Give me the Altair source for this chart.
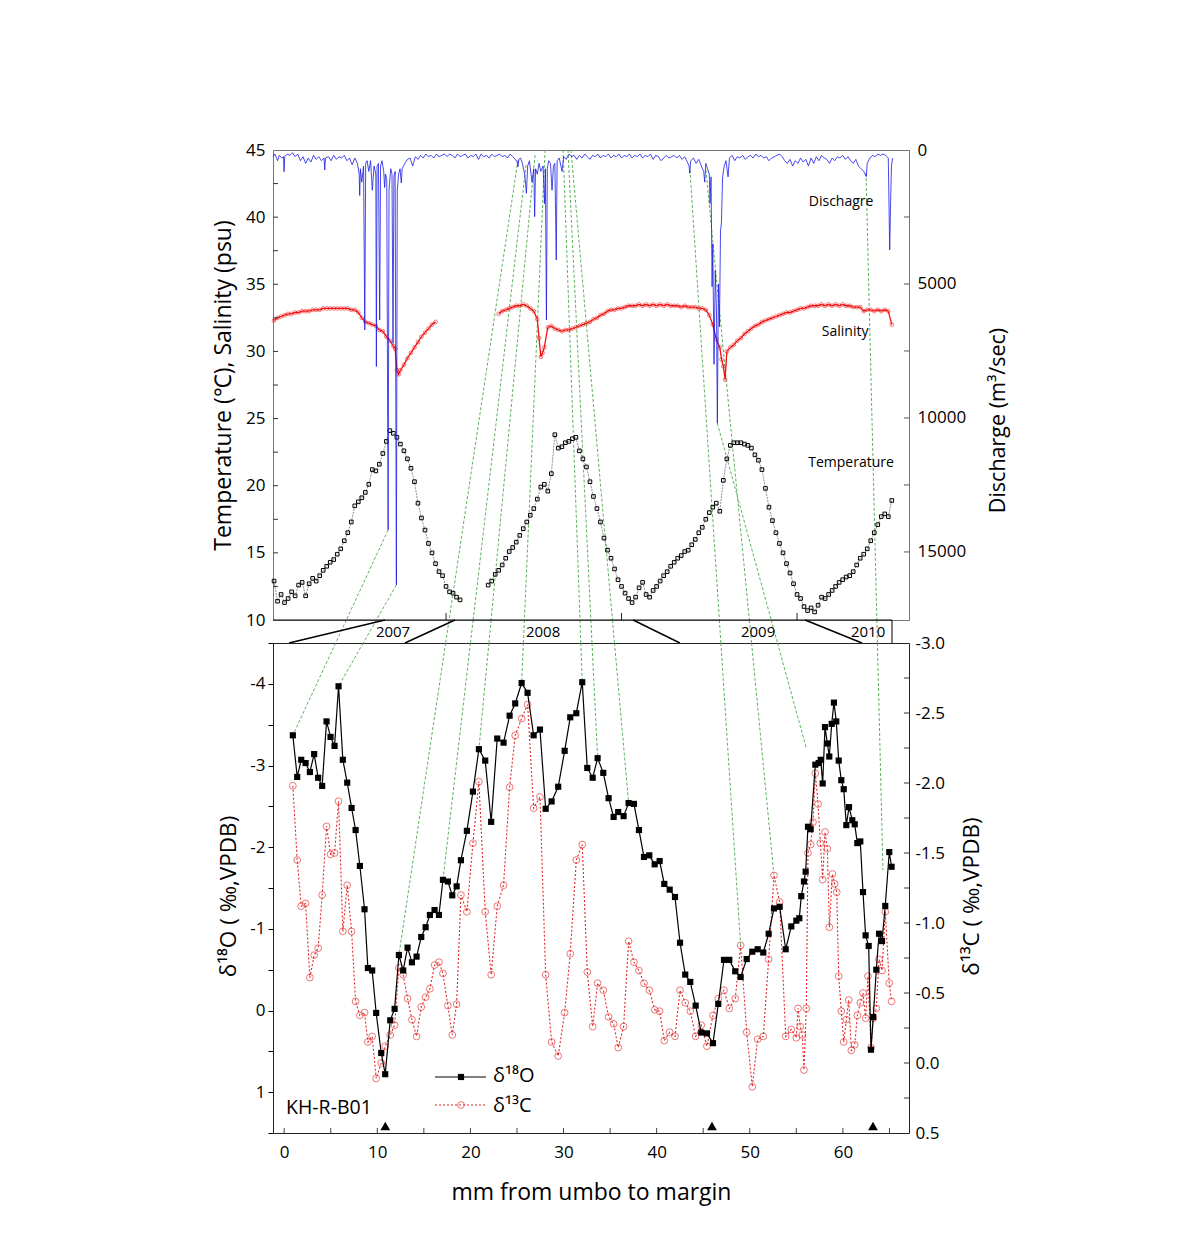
import altair as alt
import pandas as pd

FONT = "Open Sans"
RED = "#e32626"
SAL_RED = "#f01010"
BLUE = "#1a1ae6"
GREEN = "#4aa84a"

# ---------------- top panel data (decimal year, value) ----------------
temp_2007 = [
    (2007.02, 12.9), (2007.04, 11.4), (2007.06, 11.9), (2007.08, 11.3), (2007.10, 11.6), (2007.12, 12.1),
    (2007.14, 11.8), (2007.16, 12.6), (2007.18, 12.8), (2007.20, 11.8), (2007.22, 12.7), (2007.24, 13.1),
    (2007.26, 12.9), (2007.28, 13.3), (2007.30, 13.7), (2007.32, 14.0), (2007.34, 14.3), (2007.36, 14.5),
    (2007.38, 14.9), (2007.40, 15.3), (2007.42, 15.9), (2007.44, 16.5), (2007.46, 17.3), (2007.48, 18.5),
    (2007.50, 18.8), (2007.52, 19.1), (2007.54, 19.5), (2007.56, 20.1), (2007.58, 21.2), (2007.60, 21.1),
    (2007.62, 21.6), (2007.64, 22.4), (2007.66, 23.3), (2007.68, 24.1), (2007.70, 23.9), (2007.72, 23.6),
    (2007.74, 23.1), (2007.76, 22.6), (2007.78, 22.0), (2007.80, 21.3), (2007.82, 20.3), (2007.84, 18.7),
    (2007.86, 17.6), (2007.88, 16.7), (2007.90, 15.7), (2007.92, 15.0), (2007.94, 14.2), (2007.96, 13.6),
    (2007.98, 13.3), (2008.00, 12.5), (2008.02, 12.1), (2008.04, 12.0), (2008.06, 11.7), (2008.08, 11.5),
]
temp_2008_10 = [
    (2008.24, 12.6), (2008.26, 12.9), (2008.28, 13.4), (2008.30, 13.7), (2008.32, 14.1), (2008.34, 14.6),
    (2008.36, 15.1), (2008.38, 15.4), (2008.40, 15.8), (2008.42, 16.3), (2008.44, 16.8), (2008.46, 17.3),
    (2008.48, 17.8), (2008.50, 18.3), (2008.52, 19.0), (2008.54, 19.9), (2008.56, 20.1), (2008.58, 19.6),
    (2008.60, 20.9), (2008.62, 23.8), (2008.64, 22.8), (2008.66, 22.9), (2008.68, 23.2), (2008.70, 23.3),
    (2008.72, 23.5), (2008.74, 23.6), (2008.76, 22.6), (2008.78, 22.0), (2008.80, 21.4), (2008.82, 20.3),
    (2008.84, 19.2), (2008.86, 18.3), (2008.88, 17.3), (2008.90, 16.1), (2008.92, 15.2), (2008.94, 14.6),
    (2008.96, 13.8), (2008.98, 13.0), (2009.00, 12.5), (2009.02, 12.0), (2009.04, 11.6), (2009.06, 11.3),
    (2009.08, 11.7), (2009.10, 12.4), (2009.12, 12.8), (2009.14, 11.9), (2009.16, 11.7), (2009.18, 12.2),
    (2009.20, 12.5), (2009.22, 12.9), (2009.24, 13.3), (2009.26, 13.6), (2009.28, 14.0), (2009.30, 14.3),
    (2009.32, 14.6), (2009.34, 14.8), (2009.36, 15.1), (2009.38, 15.2), (2009.40, 15.6), (2009.42, 16.0),
    (2009.44, 16.5), (2009.46, 16.9), (2009.48, 17.5), (2009.50, 18.0), (2009.52, 18.4), (2009.54, 18.7),
    (2009.56, 18.1), (2009.58, 20.4), (2009.60, 22.0), (2009.62, 23.0), (2009.64, 23.2), (2009.66, 23.2),
    (2009.68, 23.2), (2009.70, 23.1), (2009.72, 23.0), (2009.74, 22.8), (2009.76, 22.3), (2009.78, 21.9),
    (2009.80, 21.2), (2009.82, 19.8), (2009.84, 18.4), (2009.86, 17.4), (2009.88, 16.5), (2009.90, 15.7),
    (2009.92, 15.0), (2009.94, 14.2), (2009.96, 13.5), (2009.98, 12.7), (2010.00, 11.9), (2010.02, 11.6),
    (2010.04, 11.0), (2010.06, 10.7), (2010.08, 10.9), (2010.10, 10.6), (2010.12, 11.1), (2010.14, 11.7),
    (2010.16, 11.6), (2010.18, 11.9), (2010.20, 12.2), (2010.22, 12.5), (2010.24, 12.8), (2010.26, 13.0),
    (2010.28, 13.2), (2010.30, 13.3), (2010.32, 13.6), (2010.34, 14.1), (2010.36, 14.6), (2010.38, 14.9),
    (2010.40, 15.3), (2010.42, 15.9), (2010.44, 16.5), (2010.46, 17.1), (2010.48, 17.7), (2010.50, 17.9),
    (2010.52, 17.7), (2010.54, 18.9),
]
sal_2007 = [
    (2007.02, 32.3), (2007.04, 32.5), (2007.06, 32.6), (2007.08, 32.7), (2007.10, 32.8), (2007.12, 32.8),
    (2007.14, 32.9), (2007.16, 32.9), (2007.18, 33.0), (2007.20, 33.0), (2007.22, 33.0), (2007.24, 33.1),
    (2007.26, 33.1), (2007.28, 33.1), (2007.30, 33.2), (2007.32, 33.2), (2007.34, 33.2), (2007.36, 33.2),
    (2007.38, 33.2), (2007.40, 33.2), (2007.42, 33.2), (2007.44, 33.2), (2007.46, 33.1), (2007.48, 33.1),
    (2007.50, 32.9), (2007.52, 32.5), (2007.54, 32.2), (2007.56, 32.1), (2007.58, 32.0), (2007.60, 31.9),
    (2007.62, 31.6), (2007.64, 31.5), (2007.66, 31.1), (2007.68, 30.8), (2007.70, 30.4), (2007.71, 30.2),
    (2007.72, 28.6), (2007.73, 28.3), (2007.74, 28.6), (2007.76, 29.0), (2007.78, 29.5), (2007.80, 29.9),
    (2007.82, 30.3), (2007.84, 30.7), (2007.86, 31.1), (2007.88, 31.4), (2007.90, 31.7), (2007.92, 32.0),
    (2007.94, 32.2),
]
sal_2008_10 = [
    (2008.30, 32.8), (2008.32, 33.0), (2008.34, 33.1), (2008.36, 33.2), (2008.38, 33.3), (2008.40, 33.4),
    (2008.42, 33.4), (2008.44, 33.5), (2008.46, 33.4), (2008.48, 33.2), (2008.50, 33.0), (2008.52, 32.4),
    (2008.53, 31.0), (2008.54, 29.6), (2008.55, 29.9), (2008.56, 30.3), (2008.58, 31.8), (2008.60, 31.9),
    (2008.62, 31.7), (2008.64, 31.6), (2008.66, 31.5), (2008.68, 31.6), (2008.70, 31.6), (2008.72, 31.7),
    (2008.74, 31.8), (2008.76, 31.9), (2008.78, 32.0), (2008.80, 32.1), (2008.82, 32.2), (2008.84, 32.4),
    (2008.86, 32.5), (2008.88, 32.7), (2008.90, 32.8), (2008.92, 33.0), (2008.94, 33.1), (2008.96, 33.1),
    (2008.98, 33.2), (2009.00, 33.2), (2009.02, 33.3), (2009.04, 33.4), (2009.06, 33.4), (2009.08, 33.4),
    (2009.10, 33.5), (2009.12, 33.4), (2009.14, 33.5), (2009.16, 33.4), (2009.18, 33.5), (2009.20, 33.4),
    (2009.22, 33.5), (2009.24, 33.4), (2009.26, 33.5), (2009.28, 33.4), (2009.30, 33.4), (2009.32, 33.4),
    (2009.34, 33.3), (2009.36, 33.4), (2009.38, 33.3), (2009.40, 33.3), (2009.42, 33.3), (2009.44, 33.2),
    (2009.46, 33.2), (2009.48, 33.1), (2009.50, 32.7), (2009.52, 32.0), (2009.54, 30.9), (2009.56, 30.3),
    (2009.57, 29.4), (2009.58, 28.9), (2009.59, 27.9), (2009.60, 30.0), (2009.62, 30.3), (2009.64, 30.5),
    (2009.66, 30.8), (2009.68, 31.0), (2009.70, 31.3), (2009.72, 31.5), (2009.74, 31.7), (2009.76, 31.9),
    (2009.78, 32.0), (2009.80, 32.2), (2009.82, 32.3), (2009.84, 32.4), (2009.86, 32.5), (2009.88, 32.6),
    (2009.90, 32.7), (2009.92, 32.8), (2009.94, 32.9), (2009.96, 32.9), (2009.98, 33.0), (2010.00, 33.1),
    (2010.02, 33.2), (2010.04, 33.2), (2010.06, 33.3), (2010.08, 33.4), (2010.10, 33.4), (2010.12, 33.4),
    (2010.14, 33.5), (2010.16, 33.4), (2010.18, 33.5), (2010.20, 33.4), (2010.22, 33.5), (2010.24, 33.4),
    (2010.26, 33.5), (2010.28, 33.4), (2010.30, 33.4), (2010.32, 33.3), (2010.34, 33.3), (2010.36, 33.3),
    (2010.38, 33.0), (2010.40, 33.1), (2010.42, 33.1), (2010.44, 33.0), (2010.46, 33.1), (2010.48, 33.0),
    (2010.50, 33.1), (2010.52, 33.0), (2010.54, 32.0),
]
discharge = [
    (2007.014, 250), (2007.025, 150), (2007.040, 400), (2007.050, 200), (2007.065, 300), (2007.074, 250),
    (2007.077, 810), (2007.081, 250), (2007.095, 150), (2007.110, 200), (2007.125, 100), (2007.140, 250),
    (2007.155, 150), (2007.170, 400), (2007.185, 250), (2007.200, 500), (2007.215, 300), (2007.230, 450),
    (2007.245, 200), (2007.260, 350), (2007.275, 250), (2007.290, 400), (2007.305, 300), (2007.309, 746),
    (2007.313, 300), (2007.330, 250), (2007.345, 400), (2007.360, 200), (2007.375, 350), (2007.390, 250),
    (2007.405, 300), (2007.420, 200), (2007.435, 400), (2007.450, 300), (2007.465, 550), (2007.480, 300),
    (2007.495, 500), (2007.505, 900), (2007.508, 1700), (2007.512, 700), (2007.520, 1200), (2007.530, 600),
    (2007.537, 6716), (2007.542, 500), (2007.550, 400), (2007.560, 800), (2007.570, 400), (2007.580, 1500),
    (2007.590, 600), (2007.600, 900), (2007.603, 8085), (2007.607, 600), (2007.615, 500), (2007.622, 6343),
    (2007.627, 600), (2007.635, 400), (2007.645, 800), (2007.650, 1400), (2007.655, 900), (2007.662, 1100),
    (2007.670, 14178), (2007.675, 1500), (2007.685, 700), (2007.692, 900), (2007.698, 7213), (2007.703, 1000),
    (2007.710, 800), (2007.717, 16230), (2007.722, 1500), (2007.730, 900), (2007.738, 700), (2007.745, 1231),
    (2007.750, 700), (2007.765, 500), (2007.780, 350), (2007.795, 300), (2007.810, 600), (2007.825, 250),
    (2007.840, 350), (2007.855, 200), (2007.870, 300), (2007.885, 150), (2007.900, 250), (2007.915, 200),
    (2007.930, 300), (2007.945, 150), (2007.960, 250), (2007.975, 200), (2007.990, 150), (2008.005, 250),
    (2008.020, 150), (2008.035, 200), (2008.050, 300), (2008.065, 150), (2008.080, 250), (2008.095, 200),
    (2008.110, 150), (2008.125, 300), (2008.140, 200), (2008.155, 250), (2008.170, 150), (2008.185, 350),
    (2008.200, 150), (2008.215, 250), (2008.230, 200), (2008.245, 300), (2008.260, 150), (2008.275, 250),
    (2008.290, 200), (2008.305, 150), (2008.320, 250), (2008.335, 200), (2008.350, 300), (2008.365, 150),
    (2008.380, 250), (2008.395, 350), (2008.405, 450), (2008.410, 622), (2008.415, 350), (2008.425, 300),
    (2008.435, 500), (2008.448, 900), (2008.458, 1616), (2008.465, 600), (2008.475, 400), (2008.490, 1200),
    (2008.500, 700), (2008.505, 2487), (2008.510, 700), (2008.520, 900), (2008.530, 500), (2008.540, 800),
    (2008.553, 600), (2008.561, 2000), (2008.566, 700), (2008.572, 6343), (2008.577, 700), (2008.585, 400),
    (2008.595, 500), (2008.604, 1500), (2008.612, 600), (2008.620, 500), (2008.628, 4104), (2008.633, 400),
    (2008.645, 300), (2008.661, 800), (2008.670, 250), (2008.685, 350), (2008.700, 150), (2008.715, 250),
    (2008.730, 200), (2008.745, 350), (2008.760, 200), (2008.775, 300), (2008.790, 150), (2008.805, 250),
    (2008.820, 350), (2008.835, 200), (2008.850, 250), (2008.865, 150), (2008.880, 300), (2008.895, 200),
    (2008.910, 250), (2008.925, 150), (2008.940, 300), (2008.955, 200), (2008.970, 250), (2008.985, 150),
    (2009.000, 300), (2009.015, 200), (2009.030, 250), (2009.045, 150), (2009.060, 300), (2009.075, 200),
    (2009.090, 250), (2009.105, 150), (2009.120, 300), (2009.135, 200), (2009.150, 250), (2009.165, 150),
    (2009.180, 350), (2009.195, 200), (2009.210, 250), (2009.225, 400), (2009.240, 300), (2009.255, 200),
    (2009.270, 300), (2009.285, 250), (2009.300, 200), (2009.315, 300), (2009.330, 200), (2009.345, 350),
    (2009.360, 250), (2009.375, 450), (2009.385, 600), (2009.389, 870), (2009.394, 400), (2009.410, 300),
    (2009.425, 500), (2009.440, 350), (2009.455, 600), (2009.468, 800), (2009.474, 1200), (2009.480, 500),
    (2009.490, 700), (2009.500, 900), (2009.504, 2000), (2009.510, 1000), (2009.516, 5100), (2009.520, 3500),
    (2009.527, 8000), (2009.534, 4500), (2009.541, 6000), (2009.546, 10197), (2009.552, 5000), (2009.558, 6592),
    (2009.564, 3000), (2009.569, 2736), (2009.576, 1000), (2009.585, 600), (2009.595, 400), (2009.607, 1000),
    (2009.615, 300), (2009.630, 200), (2009.645, 400), (2009.660, 250), (2009.675, 300), (2009.690, 200),
    (2009.705, 350), (2009.720, 250), (2009.735, 200), (2009.750, 300), (2009.765, 150), (2009.780, 250),
    (2009.795, 200), (2009.810, 300), (2009.825, 250), (2009.840, 400), (2009.855, 300), (2009.870, 250),
    (2009.885, 200), (2009.900, 150), (2009.915, 250), (2009.930, 400), (2009.945, 500), (2009.960, 350),
    (2009.975, 600), (2009.990, 400), (2010.005, 500), (2010.020, 300), (2010.035, 450), (2010.050, 350),
    (2010.065, 600), (2010.080, 300), (2010.095, 500), (2010.110, 250), (2010.125, 400), (2010.140, 200),
    (2010.155, 300), (2010.170, 350), (2010.185, 500), (2010.200, 300), (2010.215, 400), (2010.230, 250),
    (2010.245, 300), (2010.260, 200), (2010.275, 350), (2010.290, 250), (2010.305, 400), (2010.320, 500),
    (2010.335, 350), (2010.350, 600), (2010.365, 700), (2010.380, 800), (2010.395, 995), (2010.400, 500),
    (2010.415, 300), (2010.430, 200), (2010.445, 250), (2010.460, 150), (2010.475, 200), (2010.490, 150),
    (2010.505, 200), (2010.520, 300), (2010.528, 3731), (2010.533, 2000), (2010.538, 600), (2010.545, 300),
]
top_labels = ["Dischagre", "Salinity", "Temperature"]
top_label_t = [2010.251, 2010.274, 2010.308]
top_label_y = [41.1, 31.45, 21.7]

# ---------------- bottom panel data (mm, permil) ----------------
d18o = [
    (0.93, -3.37), (1.40, -2.86), (1.83, -3.07), (2.30, -3.03), (2.76, -2.92), (3.22, -3.14), (3.65, -2.85),
    (4.08, -2.75), (4.55, -3.54), (4.98, -3.35), (5.41, -3.24), (5.84, -3.97), (6.30, -3.07), (6.77, -2.79),
    (7.24, -2.48), (7.67, -2.21), (8.13, -1.77), (8.63, -1.24), (8.99, -0.52), (9.45, -0.49), (9.88, 0.03),
    (10.42, 0.52), (10.85, 0.78), (11.39, 0.12), (11.86, -0.02), (12.32, -0.68), (12.78, -0.49), (13.25, -0.77),
    (13.72, -0.59), (14.22, -0.66), (14.72, -0.90), (15.19, -1.02), (15.65, -1.17), (16.15, -1.23), (16.62, -1.17),
    (17.05, -1.60), (17.58, -1.58), (18.05, -1.41), (18.52, -1.52), (18.98, -1.84), (19.62, -2.20), (20.27, -2.68),
    (20.91, -3.20), (21.59, -3.06), (22.23, -2.31), (22.88, -3.33), (23.56, -3.28), (24.21, -3.61), (24.81, -3.76),
    (25.50, -4.01), (26.14, -3.89), (26.79, -3.37), (27.47, -3.44), (28.08, -2.47), (28.72, -2.56), (29.43, -2.74),
    (30.12, -3.18), (30.72, -3.59), (31.37, -3.64), (32.01, -4.02), (32.55, -2.97), (33.13, -2.85), (33.66, -3.09),
    (34.27, -2.91), (34.84, -2.60), (35.38, -2.37), (35.87, -2.43), (36.45, -2.38), (36.99, -2.54), (37.56, -2.53),
    (38.10, -2.21), (38.64, -1.88), (39.21, -1.90), (39.79, -1.79), (40.32, -1.83), (40.82, -1.55), (41.40, -1.48),
    (41.97, -1.39), (42.51, -0.83), (43.07, -0.44), (43.61, -0.35), (44.19, -0.06), (44.79, 0.27), (45.40, 0.28),
    (46.05, 0.40), (46.62, -0.08), (47.23, -0.62), (47.80, -0.62), (48.44, -0.48), (49.02, -0.41), (49.67, -0.63),
    (50.27, -0.72), (50.85, -0.75), (51.45, -0.71), (52.03, -0.94), (52.60, -1.25), (53.21, -1.27), (53.86, -0.75),
    (54.46, -1.03), (55.00, -1.10), (55.32, -1.13), (55.53, -1.40), (55.82, -1.58), (56.00, -1.70), (56.25, -2.25),
    (56.54, -2.22), (57.04, -3.01), (57.40, -3.03), (57.62, -3.07), (57.83, -2.78), (58.08, -3.47), (58.33, -3.27),
    (58.54, -3.11), (58.80, -3.51), (59.04, -3.77), (59.29, -3.54), (59.55, -3.06), (59.83, -2.82), (60.09, -2.71),
    (60.37, -2.27), (60.66, -2.49), (61.01, -2.33), (61.27, -2.28), (61.55, -2.05), (61.87, -2.07), (62.16, -1.45),
    (62.44, -0.92), (62.77, -0.79), (63.02, 0.48), (63.26, 0.08), (63.59, -0.50), (63.88, -0.94), (64.20, -0.85),
    (64.55, -1.28), (64.98, -1.94), (65.23, -1.76),
]
d13c = [
    (0.93, -1.98), (1.40, -1.45), (1.83, -1.12), (2.30, -1.14), (2.76, -0.61), (3.22, -0.77), (3.65, -0.82),
    (4.08, -1.20), (4.55, -1.69), (4.98, -1.49), (5.41, -1.50), (5.84, -1.87), (6.30, -0.94), (6.77, -1.27),
    (7.24, -0.94), (7.67, -0.44), (8.13, -0.34), (8.63, -0.36), (8.99, -0.15), (9.45, -0.19), (9.88, 0.11),
    (10.42, 0.00), (10.85, -0.12), (11.39, -0.20), (11.86, -0.27), (12.32, -0.68), (12.78, -0.63), (13.25, -0.46),
    (13.72, -0.31), (14.22, -0.19), (14.72, -0.40), (15.19, -0.47), (15.65, -0.53), (16.15, -0.70), (16.62, -0.72),
    (17.05, -0.64), (17.58, -0.41), (18.05, -0.20), (18.52, -0.42), (18.98, -1.20), (19.62, -1.08), (20.27, -1.57),
    (20.91, -2.01), (21.59, -1.08), (22.23, -0.63), (22.88, -1.12), (23.56, -1.27), (24.21, -1.97), (24.81, -2.34),
    (25.50, -2.46), (26.14, -2.56), (26.79, -1.82), (27.47, -1.90), (28.08, -0.63), (28.72, -0.15), (29.43, -0.05),
    (30.12, -0.36), (30.72, -0.78), (31.37, -1.45), (32.01, -1.56), (32.55, -0.65), (33.13, -0.26), (33.66, -0.57),
    (34.27, -0.52), (34.84, -0.33), (35.38, -0.28), (35.87, -0.11), (36.45, -0.26), (36.99, -0.87), (37.56, -0.72),
    (38.10, -0.66), (38.64, -0.57), (39.21, -0.52), (39.79, -0.38), (40.32, -0.37), (40.82, -0.16), (41.40, -0.22),
    (41.97, -0.19), (42.51, -0.52), (43.07, -0.43), (43.61, -0.37), (44.19, -0.19), (44.79, -0.27), (45.40, -0.12),
    (46.05, -0.34), (46.62, -0.46), (47.23, -0.52), (47.80, -0.39), (48.44, -0.46), (49.02, -0.84), (49.67, -0.22),
    (50.27, 0.17), (50.85, -0.17), (51.45, -0.19), (52.03, -0.74), (52.60, -1.34), (53.21, -1.15), (53.86, -0.19),
    (54.46, -0.24), (55.00, -0.18), (55.18, -0.39), (55.43, -0.26), (55.64, -0.20), (55.82, 0.05), (56.07, -0.39),
    (56.25, -1.50), (56.54, -1.56), (56.79, -1.72), (57.04, -2.07), (57.33, -1.85), (57.58, -1.57), (57.83, -1.31),
    (58.08, -1.65), (58.33, -1.53), (58.55, -0.97), (58.87, -1.35), (59.12, -1.28), (59.34, -1.22), (59.55, -0.62),
    (59.83, -0.37), (60.09, -0.15), (60.37, -0.31), (60.63, -0.45), (60.91, -0.09), (61.27, -0.13), (61.55, -0.34),
    (61.87, -0.43), (62.16, -0.50), (62.44, -0.32), (62.69, -0.62), (63.02, -0.11), (63.26, -0.32), (63.59, -0.39),
    (63.88, -0.74), (64.20, -0.66), (64.55, -1.08), (64.98, -0.57), (65.23, -0.44),
]
growth_marks_mm = [10.86, 45.94, 63.23]
sample_name = "KH-R-B01"

# ---------------- year band and connectors ----------------
band_top_t = [2007.652, 2008.051, 2009.066, 2010.046]
band_bottom_mm = [0.52, 12.97, 42.5, 62.05]
year_text = ["2007", "2008", "2009", "2010"]
year_text_t = [2007.698, 2008.553, 2009.778, 2010.405]
# start: (decimal year, discharge m3/s) ; end: (mm, value, axis)
conn_start = [(2007.670, 14178), (2007.717, 16230), (2008.410, 373), (2008.456, 560), (2008.507, 190),
              (2008.564, 0), (2008.667, 0), (2008.695, 0), (2008.712, 0), (2009.390, 746), (2009.481, 746),
              (2009.546, 10197), (2010.393, 858)]
conn_end = [(0.93, -3.37, "O"), (5.84, -3.97, "O"), (12.32, -0.68, "O"), (17.05, -1.60, "O"), (20.91, -3.20, "O"),
            (25.50, -4.01, "O"), (32.01, -4.02, "O"), (33.66, -3.09, "O"), (36.99, -2.54, "O"), (49.02, -0.84, "C"),
            (52.60, -1.34, "C"), (56.1, -3.20, "O"), (64.3, -1.72, "O")]

# ---------------- geometry ----------------
W, H1, H2, H3 = 636, 470, 23, 490
T0, T1 = 2007.014, 2010.638
M0, M1 = -1.2, 67.1
TMIN, TMAX = 10, 45
QMAX = 17540
O_TOP, O_BOT = -4.5, 1.5
C_TOP, C_BOT = -3.0, 0.5


def px_t(t): return (t - T0) / (T1 - T0) * W
def t_px(p): return T0 + p / W * (T1 - T0)
def px_m(m): return (m - M0) / (M1 - M0) * W
def m_px(p): return M0 + p / W * (M1 - M0)


rows_top, rows_band, rows_bot = [], [], []
for (ts, qs), (me, ve, ax) in zip(conn_start, conn_end):
    xs, ys = px_t(ts), qs / QMAX * H1
    xe = px_m(me)
    if ax == "O":
        ye = H1 + H2 + (ve - O_TOP) / (O_BOT - O_TOP) * H3
    else:
        ye = H1 + H2 + (ve - C_TOP) / (C_BOT - C_TOP) * H3
    xa = xs + (xe - xs) * (H1 - ys) / (ye - ys)
    xb = xs + (xe - xs) * (H1 + H2 - ys) / (ye - ys)
    rows_top.append(dict(t=t_px(xs), y=TMAX - ys / H1 * (TMAX - TMIN), t2=t_px(xa), y2=TMIN))
    rows_band.append(dict(t=t_px(xa), y=1, t2=t_px(xb), y2=0))
    rows_bot.append(dict(m=m_px(xb), y=O_TOP, m2=m_px(xe),
                         y2=O_TOP + (ye - H1 - H2) / H3 * (O_BOT - O_TOP)))

band_rows = [dict(t=tt, y=1, t2=t_px(px_m(mm)), y2=0) for tt, mm in zip(band_top_t, band_bottom_mm)]

temp_df = pd.DataFrame([dict(t=a, y=b, seg="a") for a, b in temp_2007] +
                       [dict(t=a, y=b, seg="b") for a, b in temp_2008_10])
sal_df = pd.DataFrame([dict(t=a, y=b, seg="a") for a, b in sal_2007] +
                      [dict(t=a, y=b, seg="b") for a, b in sal_2008_10])
dis_df = pd.DataFrame(discharge, columns=["t", "q"])
lab_df = pd.DataFrame(dict(t=top_label_t, y=top_label_y, text=top_labels))
o_df = pd.DataFrame(d18o, columns=["m", "y"])
c_df = pd.DataFrame(d13c, columns=["m", "c"])

# ---------------- scales & axes ----------------
sx_t = alt.Scale(domain=[T0, T1], nice=False, zero=False)
sy_T = alt.Scale(domain=[TMIN, TMAX], nice=False, zero=False)
sy_Q = alt.Scale(domain=[0, QMAX], nice=False, reverse=True)
sx_m = alt.Scale(domain=[M0, M1], nice=False, zero=False)
sy_O = alt.Scale(domain=[O_TOP, O_BOT], nice=False, zero=False, reverse=True)
sy_C = alt.Scale(domain=[C_TOP, C_BOT], nice=False, zero=False, reverse=True)

common = dict(grid=False, labelColor="black", titleColor="black", titleFontWeight="normal",
              labelFont=FONT, titleFont=FONT)
ax_T = alt.Axis(values=[10, 15, 20, 25, 30, 35, 40, 45], ticks=False, domain=False, labelFontSize=17,
                labelPadding=8, title="Temperature (℃), Salinity (psu)", titleFontSize=23, titlePadding=10, **common)
ax_Q = alt.Axis(orient="right", values=[0, 5000, 10000, 15000], format="d", ticks=False, domain=False,
                labelFontSize=17, labelPadding=8, title="Discharge (m³/sec)", titleFontSize=21.5, titleAngle=270,
                titleBaseline="top", titleY=270, titlePadding=22, **common)
ax_M = alt.Axis(values=[0, 10, 20, 30, 40, 50, 60], ticks=False, domain=False, labelFontSize=17,
                labelPadding=11, title="mm from umbo to margin", titleFontSize=23, titlePadding=21, **common)
ax_O = alt.Axis(values=[-4.5, -4, -3.5, -3, -2.5, -2, -1.5, -1, -0.5, 0, 0.5, 1, 1.5], ticks=True, tickSize=5,
                tickColor="black", domain=False, labelFontSize=17, labelPadding=3,
                labelExpr="datum.value % 1 == 0 ? ((datum.value < 0 ? '-' : '') + abs(datum.value)) : ''",
                title="δ¹⁸O ( ‰,VPDB)", titleFontSize=22.5, titleY=253, titlePadding=9, **common)
ax_C = alt.Axis(orient="right", values=[-3.0, -2.5, -2.0, -1.5, -1.0, -0.5, 0.0, 0.5], ticks=False, domain=False,
                labelFontSize=17, labelPadding=6,
                labelExpr="(datum.value < 0 ? '-' : '') + format(abs(datum.value), '.1f')",
                title="δ¹³C ( ‰,VPDB)", titleFontSize=22.5, titleAngle=270, titleBaseline="top", titleY=253,
                titlePadding=16, **common)

X_T = alt.X("t:Q", scale=sx_t, axis=None)
Y_T = alt.Y("y:Q", scale=sy_T, axis=ax_T)
Y_Q = alt.Y("q:Q", scale=sy_Q, axis=ax_Q)
X_M = alt.X("m:Q", scale=sx_m, axis=ax_M)
Y_O = alt.Y("y:Q", scale=sy_O, axis=ax_O)
Y_C = alt.Y("c:Q", scale=sy_C, axis=ax_C)

one = pd.DataFrame({"k": [0]})

# ---------------- top panel ----------------
left_layers = alt.layer(
    alt.Chart(pd.DataFrame(rows_top)).mark_rule(color=GREEN, strokeWidth=0.9, strokeDash=[3, 2]).encode(
        x=X_T, x2="t2:Q", y=Y_T, y2="y2:Q"),
    alt.Chart(temp_df).mark_line(color="#222", strokeWidth=0.5, strokeDash=[2, 1]).encode(
        x=X_T, y=Y_T, detail="seg:N"),
    alt.Chart(temp_df).mark_point(shape="square", filled=False, size=13, color="black", strokeWidth=1,
                                  opacity=1).encode(x=X_T, y=Y_T),
    alt.Chart(sal_df).mark_line(color=SAL_RED, strokeWidth=1.3).encode(x=X_T, y=Y_T, detail="seg:N"),
    alt.Chart(sal_df).mark_point(shape="circle", filled=False, size=14, color=SAL_RED, strokeWidth=0.8).encode(
        x=X_T, y=Y_T),
    alt.Chart(lab_df).mark_text(fontSize=14, font=FONT, color="black").encode(x=X_T, y=Y_T, text="text:N"),
    alt.Chart(pd.DataFrame({"y": [12.5, 15, 17.5, 20, 22.5, 25, 27.5, 30, 32.5, 35, 37.5, 40, 42.5]}))
    .mark_rule(color="#333").encode(y=Y_T, x=alt.value(0), x2=alt.value(5)),
    alt.Chart(pd.DataFrame({"t": [2008.0, 2009.0, 2010.0]})).mark_rule(color="#222").encode(
        x=X_T, y=alt.value(463), y2=alt.value(470)),
)
right_layers = alt.layer(
    alt.Chart(dis_df).mark_line(color=BLUE, strokeWidth=0.8).encode(x=X_T, y=Y_Q),
    alt.Chart(pd.DataFrame({"q": [2500, 5000, 7500, 10000, 12500, 15000]})).mark_rule(color="#555").encode(
        y=Y_Q, x=alt.value(W - 5), x2=alt.value(W)),
)
top = alt.layer(left_layers, right_layers).resolve_scale(y="independent").properties(
    width=W, height=H1, view=alt.ViewBackground(stroke="#777", strokeWidth=1))

# ---------------- year band ----------------
X_B = alt.X("t:Q", scale=sx_t, axis=None)
Y_B = alt.Y("y:Q", scale=alt.Scale(domain=[0, 1]), axis=None)
band = alt.layer(
    alt.Chart(pd.DataFrame(rows_band)).mark_rule(color=GREEN, strokeWidth=0.9, strokeDash=[3, 2]).encode(
        x=X_B, x2="t2:Q", y=Y_B, y2="y2:Q"),
    alt.Chart(pd.DataFrame(band_rows)).mark_rule(color="black", strokeWidth=1.4).encode(
        x=X_B, x2="t2:Q", y=Y_B, y2="y2:Q"),
    alt.Chart(one).mark_rule(color="black", strokeWidth=1).encode(x=alt.value(0), x2=alt.value(619), y=alt.value(0)),
    alt.Chart(one).mark_rule(color="black", strokeWidth=1).encode(x=alt.value(619), y=alt.value(0), y2=alt.value(H2)),
    alt.Chart(pd.DataFrame(dict(t=year_text_t, text=year_text))).mark_text(
        fontSize=15, font=FONT, color="black", baseline="middle").encode(x=X_B, y=alt.value(12), text="text:N"),
).properties(width=W, height=H2, view=alt.ViewBackground(stroke="transparent"))

# ---------------- bottom panel ----------------
c_layers = alt.layer(
    alt.Chart(c_df).mark_line(color=RED, strokeWidth=1.1, strokeDash=[2, 2]).encode(x=X_M, y=Y_C),
    alt.Chart(c_df).mark_point(shape="circle", filled=False, size=46, color=RED, strokeWidth=0.9).encode(
        x=X_M, y=Y_C),
    alt.Chart(pd.DataFrame({"c": [-2.75, -2.5, -2.25, -2.0, -1.75, -1.5, -1.25, -1.0, -0.75, -0.5, -0.25, 0.0, 0.25]}))
    .mark_rule(color="#333").encode(y=Y_C, x=alt.value(W - 5), x2=alt.value(W)),
)
o_layers = alt.layer(
    alt.Chart(pd.DataFrame(rows_bot)).mark_rule(color=GREEN, strokeWidth=0.9, strokeDash=[3, 2]).encode(
        x=X_M, x2="m2:Q", y=Y_O, y2="y2:Q"),
    alt.Chart(o_df).mark_line(color="black", strokeWidth=1.2).encode(x=X_M, y=Y_O),
    alt.Chart(o_df).mark_point(shape="square", filled=True, size=38, color="black", opacity=1).encode(x=X_M, y=Y_O),
    alt.Chart(pd.DataFrame({"m": growth_marks_mm})).mark_point(
        shape="triangle-up", filled=True, size=95, color="black", opacity=1).encode(x=X_M, y=alt.value(483)),
    alt.Chart(pd.DataFrame({"m": [0, 5, 10, 15, 20, 25, 30, 35, 40, 45, 50, 55, 60, 65]})).mark_rule(
        color="#444").encode(x=X_M, y=alt.value(H3 - 5), y2=alt.value(H3)),
    alt.Chart(one).mark_text(align="left", baseline="middle", fontSize=19.5, font=FONT, color="black").encode(
        x=alt.value(13), y=alt.value(465), text=alt.value(sample_name)),
    # legend
    alt.Chart(one).mark_rule(color="black", strokeWidth=1.2).encode(
        x=alt.value(162), x2=alt.value(213), y=alt.value(434)),
    alt.Chart(one).mark_point(shape="square", filled=True, size=38, color="black", opacity=1).encode(
        x=alt.value(188), y=alt.value(434)),
    alt.Chart(one).mark_text(align="left", baseline="middle", fontSize=20, font=FONT, color="black").encode(
        x=alt.value(220), y=alt.value(433), text=alt.value("δ¹⁸O")),
    alt.Chart(one).mark_rule(color=RED, strokeWidth=1.1, strokeDash=[2, 2]).encode(
        x=alt.value(162), x2=alt.value(213), y=alt.value(462)),
    alt.Chart(one).mark_point(shape="circle", filled=False, size=46, color=RED, strokeWidth=0.9).encode(
        x=alt.value(188), y=alt.value(462)),
    alt.Chart(one).mark_text(align="left", baseline="middle", fontSize=20, font=FONT, color="black").encode(
        x=alt.value(220), y=alt.value(463), text=alt.value("δ¹³C")),
)
bottom = alt.layer(c_layers, o_layers).resolve_scale(y="independent").properties(
    width=W, height=H3, view=alt.ViewBackground(stroke="#222", strokeWidth=1))

chart = alt.vconcat(top, band, bottom, spacing=0, bounds="flush").properties(
    padding={"left": 212, "top": 140, "right": 10, "bottom": 10}
).configure(font=FONT).configure_text(font=FONT)

chart.save("out.html", embed_options={"renderer": "svg", "actions": False})
